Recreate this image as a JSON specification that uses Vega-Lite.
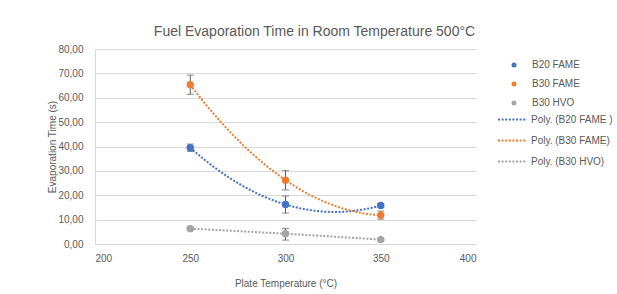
{
  "$schema": "https://vega.github.io/schema/vega-lite/v6.json",
  "autosize": "none",
  "width": 381,
  "height": 195,
  "padding": {"left": 95, "top": 49, "right": 141, "bottom": 50},
  "background": "white",
  "title": {
    "text": "Fuel Evaporation Time in Room Temperature 500°C",
    "anchor": "middle",
    "dx": 29,
    "offset": 5,
    "fontSize": 14,
    "fontWeight": "normal",
    "color": "#595959",
    "font": "Liberation Sans Narrow, Liberation Sans, sans-serif"
  },
  "config": {
    "font": "Liberation Sans Narrow, Liberation Sans, sans-serif",
    "view": {"stroke": null},
    "axis": {
      "labelColor": "#595959",
      "titleColor": "#595959",
      "labelFontSize": 10,
      "titleFontSize": 10,
      "titleFontWeight": "normal",
      "domainColor": "#D9D9D9",
      "gridColor": "#D9D9D9",
      "ticks": false
    },
    "legend": {
      "labelColor": "#595959",
      "labelFontSize": 10,
      "title": null
    }
  },
  "data": {
    "values": [
      {"temp": 250, "time": 39.5, "lo": 38.0, "hi": 41.0, "series": "B20 FAME", "trend": "Poly. (B20 FAME )"},
      {"temp": 300, "time": 16.2, "lo": 12.7, "hi": 19.7, "series": "B20 FAME", "trend": "Poly. (B20 FAME )"},
      {"temp": 350, "time": 15.8, "lo": 15.0, "hi": 16.6, "series": "B20 FAME", "trend": "Poly. (B20 FAME )"},
      {"temp": 250, "time": 65.3, "lo": 61.4, "hi": 69.3, "series": "B30 FAME", "trend": "Poly. (B30 FAME)"},
      {"temp": 300, "time": 26.2, "lo": 22.2, "hi": 30.1, "series": "B30 FAME", "trend": "Poly. (B30 FAME)"},
      {"temp": 350, "time": 11.8, "lo": 10.2, "hi": 13.5, "series": "B30 FAME", "trend": "Poly. (B30 FAME)"},
      {"temp": 250, "time": 6.3, "lo": 5.6, "hi": 7.0, "series": "B30 HVO", "trend": "Poly. (B30 HVO)"},
      {"temp": 300, "time": 4.2, "lo": 1.6, "hi": 6.4, "series": "B30 HVO", "trend": "Poly. (B30 HVO)"},
      {"temp": 350, "time": 1.8, "lo": 1.3, "hi": 2.3, "series": "B30 HVO", "trend": "Poly. (B30 HVO)"}
    ]
  },
  "encoding": {
    "x": {"field": "temp", "type": "quantitative", "scale": {"domain": [200, 400]},
      "axis": {"title": "Plate Temperature  (°C)", "values": [200, 250, 300, 350, 400], "tickCount": 5, "grid": false, "labelPadding": 9, "titlePadding": 15}}
  },
  "layer": [
    {
      "transform": [
        {"regression": "time", "on": "temp", "method": "poly", "order": 2, "groupby": ["trend"], "extent": [250, 350]}
      ],
      "mark": {"type": "line", "strokeWidth": 2, "strokeDash": [2, 1.6]},
      "encoding": {
        "y": {"field": "time", "type": "quantitative", "scale": {"domain": [0, 80]},
          "axis": {"title": "Evaporation Time (s)", "values": [0, 10, 20, 30, 40, 50, 60, 70, 80], "tickCount": 9, "labelExpr": "replace(format(datum.value, '.2f'), '.', ',')", "labelPadding": 12, "titlePadding": 0, "labelOverlap": false}},
        "color": {
          "field": "trend",
          "type": "nominal",
          "scale": {"domain": ["Poly. (B20 FAME )", "Poly. (B30 FAME)", "Poly. (B30 HVO)"], "range": ["#4472C4", "#ED7D31", "#A5A5A5"]},
          "legend": {"orient": "none", "legendX": 402, "legendY": 55, "symbolType": "stroke", "symbolSize": 841, "symbolStrokeWidth": 2, "symbolDash": [2, 1.6], "labelOffset": 3, "rowPadding": -3}
        }
      }
    },
    {
      "mark": {"type": "rule", "color": "#595959", "strokeWidth": 1},
      "encoding": {
        "y": {"field": "lo", "type": "quantitative"},
        "y2": {"field": "hi"}
      }
    },
    {
      "mark": {"type": "tick", "orient": "horizontal", "color": "#595959", "size": 7, "thickness": 1},
      "encoding": {
        "y": {"field": "lo", "type": "quantitative"}
      }
    },
    {
      "mark": {"type": "tick", "orient": "horizontal", "color": "#595959", "size": 7, "thickness": 1},
      "encoding": {
        "y": {"field": "hi", "type": "quantitative"}
      }
    },
    {
      "mark": {"type": "point", "filled": true, "opacity": 1, "size": 55, "shape": "circle"},
      "encoding": {
        "y": {"field": "time", "type": "quantitative"},
        "color": {
          "field": "series",
          "type": "nominal",
          "scale": {"domain": ["B20 FAME", "B30 FAME", "B30 HVO"], "range": ["#4472C4", "#ED7D31", "#A5A5A5"]},
          "legend": {"orient": "none", "legendX": 414, "legendY": 11, "symbolType": "circle", "symbolSize": 25, "labelOffset": 13, "rowPadding": 9}
        }
      }
    }
  ],
  "resolve": {"scale": {"color": "independent"}}
}
